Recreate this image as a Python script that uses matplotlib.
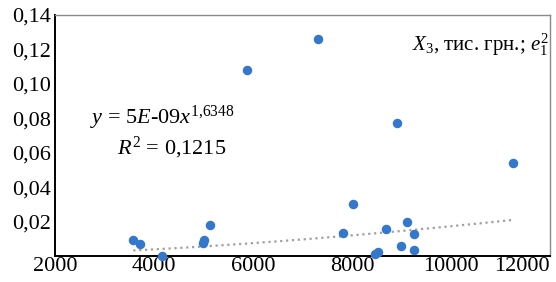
import numpy as np
import matplotlib
matplotlib.use("Agg")
import matplotlib.pyplot as plt
from matplotlib.ticker import FuncFormatter

plt.rcParams['font.family'] = ['Liberation Serif', 'DejaVu Serif']
plt.rcParams['mathtext.fontset'] = 'custom'
plt.rcParams['mathtext.rm'] = 'Liberation Serif'
plt.rcParams['mathtext.it'] = 'Liberation Serif:italic'

# X3, thousand UAH vs squared residual
x3 = [3580, 3720, 4160, 4990, 5010, 5130, 5880, 7310, 8910, 11250,
      8020, 7820, 8470, 8530, 8690, 8990, 9110, 9250, 9250]
e2 = [0.0093, 0.0072, 0.0002, 0.0078, 0.0092, 0.0183, 0.108, 0.126, 0.077, 0.054,
      0.030, 0.0134, 0.0012, 0.0022, 0.0157, 0.0060, 0.0198, 0.0128, 0.0035]

# power trend y = a * x^b
trend_a = 5e-9
trend_b = 1.6348

x_ticks = [2000, 4000, 6000, 8000, 10000, 12000]
y_ticks = [0.02, 0.04, 0.06, 0.08, 0.10, 0.12, 0.14]

fig = plt.figure(figsize=(5.56, 2.82), dpi=100)
ax = fig.add_axes([0.099, 0.092, 0.890, 0.855])

tx = np.linspace(min(x3), max(x3), 200)
ax.plot(tx, trend_a * tx ** trend_b, color='#a0a0a0', linestyle=':', linewidth=1.6, zorder=2)
ax.scatter(x3, e2, s=34, color='#3478cc', zorder=3, clip_on=False)

ax.set_xlim(2000, 12000)
ax.set_ylim(0, 0.14)
ax.set_xticks(x_ticks)
ax.set_yticks(y_ticks)
ax.xaxis.set_major_formatter(FuncFormatter(lambda v, p: f'{v:.0f}'))
ax.yaxis.set_major_formatter(FuncFormatter(lambda v, p: f'{v:.2f}'.replace('.', ',')))
ax.tick_params(length=0, labelsize=16, colors='black')
ax.tick_params(axis='x', pad=1)
ax.tick_params(axis='y', pad=3)
fig.canvas.draw()
ax.get_xticklabels()[-1].set_ha('right')

for s in ['left', 'bottom']:
    ax.spines[s].set_color('black')
    ax.spines[s].set_linewidth(1.4)
for s in ['top', 'right']:
    ax.spines[s].set_color('#8a8a8a')
    ax.spines[s].set_linewidth(1.0)

ax.text(0.07, 0.575, r'$y$ = 5$E$-09$x^{\mathrm{1{,}6348}}$', transform=ax.transAxes,
        fontsize=16, ha='left', va='center')
ax.text(0.125, 0.45, r'$R^{2}$ = 0,1215', transform=ax.transAxes,
        fontsize=16, ha='left', va='center')
ax.text(0.998, 0.875, r'$X_3$, тис. грн.; $e^{2}_{1}$', transform=ax.transAxes,
        fontsize=15, ha='right', va='center')

fig.savefig('out.png', dpi=100)
